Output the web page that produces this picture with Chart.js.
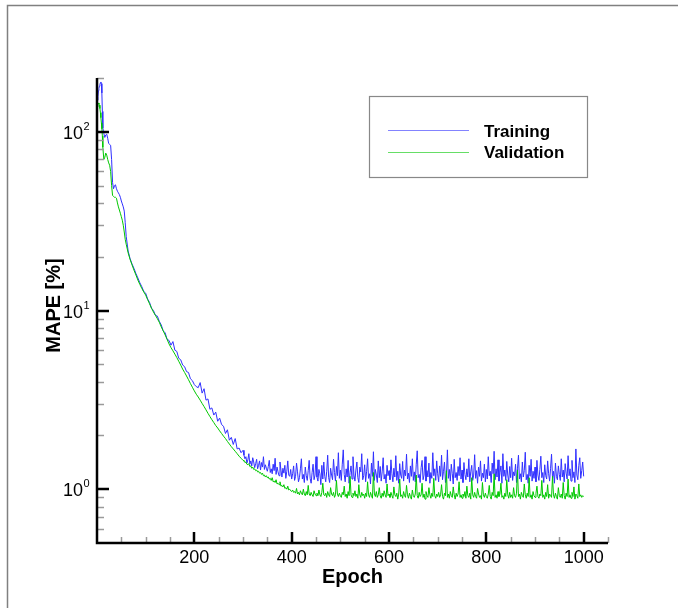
<!DOCTYPE html>
<html>
<head>
<meta charset="utf-8">
<script src="https://cdn.jsdelivr.net/npm/chart.js@4/dist/chart.umd.min.js"></script>
<style>
  html, body { margin: 0; padding: 0; background: #fff; }
  #c { display: block; }
</style>
</head>
<body>
<canvas id="c" width="678" height="608"></canvas>
<script>
/* MAPE vs epoch, training / validation (log y) */
const range = (a, b, s) => { const r = []; for (let v = a; v <= b; v += s) r.push(v); return r; };

// epochs sampled: dense at the start, every 4 in the decay, every 2 on the plateau
const epochs = [].concat(range(1, 12, 1), range(14, 60, 2), range(64, 300, 4), range(302, 1000, 2));

const trainingMape = [
  150, 158, 170, 175, 180, 184, 188, 190, 186, 165, 130, 105,
  98, 93, 96, 97, 92, 86, 85, 84, 70, 52, 48, 50, 50.5, 48, 46.5, 45.5, 44.5, 43, 41, 39.5, 38, 36, 31, 26,
  21.5, 19.5, 18.2, 17.2, 16.1, 15.2, 14.3, 13.6, 12.8, 12.5, 11.6, 11.1, 10.3, 10.0, 9.4, 9.3, 8.7, 8.3, 7.7, 7.5,
  6.9, 6.8, 6.4, 6.7, 6.0, 5.9, 5.4, 5.3, 4.95, 4.85, 4.55, 4.5, 4.15, 4.05, 3.85, 3.75, 3.7, 3.95, 3.45, 3.65,
  3.15, 3.2, 2.8, 2.85, 2.6, 2.7, 2.4, 2.5, 2.3, 2.25, 2.05, 2.15, 1.88, 1.95, 1.78, 1.92, 1.68, 1.7, 1.6, 1.65,
  1.55,1.48,1.52,1.40,1.46,1.58,1.38,1.44,1.35,1.50,1.42,1.32,1.39,1.47,1.30,1.36,1.44,1.28,1.41,1.33,1.52,1.29,1.37,1.31,1.26,
  1.34,1.45,1.24,1.30,1.22,1.38,1.27,1.49,1.21,1.33,1.25,1.19,1.42,1.28,1.17,1.31,1.23,1.36,1.15,1.26,1.44,1.20,1.18,1.29,1.14,
  1.22,1.35,1.12,1.18,1.40,1.25,1.10,1.16,1.30,1.48,1.14,1.21,1.09,1.33,1.19,1.12,1.27,1.45,1.15,1.08,1.24,1.38,1.13,1.20,1.52,
  1.17,1.11,1.29,1.22,1.06,1.36,1.14,1.42,1.18,1.10,1.26,1.55,1.16,1.09,1.31,1.20,1.13,1.47,1.24,1.11,1.34,1.19,1.60,1.15,1.28,
  1.12,1.38,1.66,1.21,1.10,1.30,1.17,1.45,1.08,1.24,1.35,1.14,1.52,1.20,1.11,1.28,1.42,1.16,1.09,1.33,1.25,1.58,1.13,1.19,1.37,
  1.10,1.26,1.48,1.15,1.22,1.07,1.40,1.18,1.62,1.12,1.29,1.20,1.09,1.44,1.16,1.34,1.11,1.25,1.50,1.14,1.21,1.08,1.36,1.19,1.27,
  1.13,1.46,1.22,1.10,1.31,1.17,1.54,1.12,1.26,1.08,1.39,1.20,1.15,1.43,1.11,1.28,1.19,1.57,1.14,1.23,1.09,1.35,1.18,1.48,1.12,
  1.25,1.10,1.38,1.64,1.16,1.21,1.09,1.32,1.45,1.13,1.20,1.52,1.11,1.27,1.17,1.40,1.08,1.24,1.15,1.60,1.19,1.30,1.12,1.44,1.22,
  1.10,1.35,1.18,1.55,1.13,1.26,1.42,1.09,1.20,1.66,1.15,1.29,1.11,1.38,1.22,1.07,1.47,1.16,1.24,1.12,1.34,1.19,1.50,1.14,1.28,
  1.09,1.41,1.21,1.13,1.30,1.17,1.48,1.10,1.25,1.36,1.12,1.20,1.56,1.15,1.27,1.08,1.33,1.18,1.44,1.11,1.23,1.16,1.38,1.10,1.29,
  1.14,1.52,1.19,1.26,1.09,1.40,1.22,1.63,1.13,1.30,1.17,1.46,1.11,1.24,1.35,1.08,1.58,1.18,1.28,1.12,1.43,1.20,1.10,1.34,1.16,
  1.49,1.12,1.25,1.19,1.38,1.09,1.30,1.55,1.14,1.22,1.10,1.42,1.17,1.27,1.61,1.13,1.21,1.08,1.36,1.18,1.47,1.11,1.26,1.15,1.33,
  1.10,1.45,1.20,1.12,1.29,1.53,1.16,1.24,1.09,1.37,1.19,1.14,1.44,1.22,1.11,1.31,1.57,1.15,1.26,1.08,1.40,1.18,1.13,1.35,1.21,
  1.12,1.48,1.17,1.28,1.10,1.39,1.23,1.14,1.54,1.19,1.30,1.11,1.45,1.16,1.25,1.09,1.68,1.20,1.13,1.36,1.50,1.15,1.27,1.42,1.18
];

const validationMape = [
  138, 142, 145, 143, 141, 135, 128, 120, 112, 104, 95, 82,
  70, 72, 76, 74, 70, 67, 65, 60, 50, 44, 43.5, 43, 43, 42.5, 40, 38, 36.5, 35, 33.5, 32, 30, 27.5, 25, 23.5,
  21, 19.3, 18, 16.8, 15.8, 14.8, 14, 13.3, 12.7, 12.2, 11.5, 10.9, 10.3, 9.8, 9.4, 9.0, 8.6, 8.1, 7.7, 7.3,
  6.9, 6.5, 6.2, 5.95, 5.7, 5.45, 5.2, 4.95, 4.7, 4.5, 4.3, 4.1, 3.9, 3.72, 3.55, 3.4, 3.28, 3.15, 3.02, 2.9,
  2.78, 2.66, 2.55, 2.45, 2.36, 2.27, 2.2, 2.12, 2.05, 1.98, 1.92, 1.85, 1.79, 1.73, 1.68, 1.63, 1.58, 1.53, 1.49, 1.45,
  1.44,1.41,1.42,1.38,1.37,1.39,1.34,1.35,1.31,1.33,1.29,1.30,1.27,1.28,1.25,1.26,1.23,1.24,1.21,1.23,1.19,1.20,1.17,1.19,1.16,
  1.17,1.14,1.15,1.12,1.16,1.10,1.11,1.09,1.13,1.07,1.08,1.06,1.10,1.04,1.05,1.03,1.06,1.01,1.02,1.00,1.04,0.99,1.00,0.98,0.97,
  0.99,0.96,0.97,0.95,1.01,0.94,0.96,0.93,0.98,0.95,0.93,1.00,0.94,0.92,0.97,0.93,1.05,0.94,0.92,0.96,0.93,0.91,0.98,0.94,0.92,
  0.95,0.92,0.99,0.93,0.91,0.96,1.08,0.93,0.92,0.95,0.90,0.97,0.93,0.91,1.02,0.94,0.92,0.96,0.90,0.93,1.12,0.94,0.91,0.95,0.92,
  0.90,0.96,0.93,1.04,0.91,0.94,0.89,0.97,0.92,1.18,0.93,0.90,0.95,0.92,0.98,0.91,0.94,0.89,1.06,0.93,0.90,0.96,0.92,0.94,0.89,
  0.95,0.91,1.10,0.93,0.90,0.96,0.92,0.89,1.24,0.94,0.91,0.97,0.90,0.93,1.02,0.92,0.89,0.95,0.91,0.98,0.93,0.90,1.07,0.92,0.94,
  0.90,0.96,0.92,0.89,1.03,0.93,0.91,0.95,0.88,0.94,1.14,0.91,0.93,0.89,0.97,0.92,0.90,1.05,0.93,0.89,0.95,0.91,0.88,0.99,0.92,
  0.90,0.94,1.20,0.92,0.89,0.96,0.91,0.93,1.08,0.90,0.94,0.88,0.97,0.92,0.90,1.02,0.93,0.89,0.95,0.91,1.15,0.92,0.89,0.94,0.91,
  0.96,0.90,0.93,1.06,0.91,0.88,0.95,0.92,1.27,0.90,0.94,0.89,0.97,0.92,0.90,1.03,0.93,0.88,0.95,0.91,0.94,1.10,0.90,0.93,0.89,
  0.94,0.91,0.97,0.89,1.04,0.92,0.90,0.95,0.88,1.16,0.93,0.90,0.96,0.91,0.89,1.01,0.94,0.90,0.92,0.88,1.09,0.93,0.90,0.95,0.91,
  0.89,0.94,1.05,0.91,0.88,0.96,0.92,1.22,0.90,0.93,0.89,0.97,0.91,0.94,1.08,0.90,0.92,0.88,0.95,0.91,1.13,0.93,0.89,0.96,0.90,
  0.93,0.89,1.02,0.92,0.90,0.95,1.28,0.91,0.94,0.88,0.96,0.92,0.90,1.07,0.93,0.89,0.95,0.91,1.16,0.90,0.93,0.88,0.97,0.92,0.90,
  0.95,1.04,0.91,0.89,0.94,0.92,1.12,0.90,0.93,0.88,0.96,0.91,1.06,0.89,0.94,0.92,0.90,1.18,0.93,0.89,0.95,0.91,0.88,1.02,0.92,
  0.90,0.94,0.89,1.09,0.92,0.88,0.95,0.91,1.14,0.90,0.93,0.89,0.96,0.91,1.03,0.88,0.94,0.92,0.89,1.07,0.91,0.93,0.90,0.92,0.91
];

const xTicks = [200, 400, 600, 800, 1000];
const xMinor = range(50, 1050, 50).filter(v => !xTicks.includes(v));
const yTicks = [1, 10, 100];
const yExp = ["0", "1", "2"];
const yMinor = [0.6, 0.7, 0.8, 0.9, 2, 3, 4, 5, 6, 7, 8, 9, 20, 30, 40, 50, 60, 70, 80, 90, 200];
const seriesNames = ["Training", "Validation"];
const seriesColors = ["#3030ff", "#00c800"];

const FONT = "'Liberation Sans', Arial, sans-serif";

const frameAxes = {
  id: "frameAxes",
  beforeDraw(chart){
    const ctx = chart.ctx;
    ctx.save();
    ctx.fillStyle = "#fff";
    ctx.fillRect(0, 0, chart.width, chart.height);
    ctx.strokeStyle = "#808080";
    ctx.lineWidth = 1.5;
    ctx.strokeRect(7.5, 5.5, chart.width + 20, chart.height + 20);
    ctx.restore();
  },
  afterDraw(chart){
    const ctx = chart.ctx, a = chart.chartArea;
    const xs = chart.scales.x, ys = chart.scales.y;
    ctx.save();

    // minor ticks
    ctx.strokeStyle = "#9a9a9a"; ctx.lineWidth = 1.5;
    ctx.beginPath();
    yMinor.forEach(v => { const y = Math.round(ys.getPixelForValue(v)) + 0.5; ctx.moveTo(a.left, y); ctx.lineTo(a.left + 7, y); });
    xMinor.forEach(v => { const x = Math.round(xs.getPixelForValue(v)) + 0.5; ctx.moveTo(x, a.bottom); ctx.lineTo(x, a.bottom - 6); });
    ctx.stroke();

    // major ticks
    ctx.strokeStyle = "#000"; ctx.lineWidth = 2.5;
    ctx.beginPath();
    yTicks.forEach(v => { const y = Math.round(ys.getPixelForValue(v)); ctx.moveTo(a.left, y); ctx.lineTo(a.left + 12, y); });
    xTicks.forEach(v => { const x = Math.round(xs.getPixelForValue(v)); ctx.moveTo(x, a.bottom); ctx.lineTo(x, a.bottom - 11); });
    ctx.stroke();

    // axis lines
    ctx.lineWidth = 2.5;
    ctx.beginPath();
    ctx.moveTo(a.left, a.top); ctx.lineTo(a.left, a.bottom); ctx.lineTo(a.right, a.bottom);
    ctx.stroke();

    // tick labels
    ctx.fillStyle = "#000";
    ctx.textBaseline = "alphabetic";
    ctx.font = "18px " + FONT;
    ctx.textAlign = "center";
    xTicks.forEach(v => ctx.fillText(String(v), xs.getPixelForValue(v), a.bottom + 20));
    yTicks.forEach((v, i) => {
      const y = ys.getPixelForValue(v);
      ctx.font = "18px " + FONT; ctx.textAlign = "right";
      ctx.fillText("10", 83, y + 7);
      ctx.font = "11px " + FONT; ctx.textAlign = "left";
      ctx.fillText(yExp[i], 83.5, y - 2);
    });

    // axis titles
    ctx.font = "bold 20px " + FONT;
    ctx.textAlign = "center";
    ctx.fillText("Epoch", (a.left + a.right) / 2, 583);
    ctx.save();
    ctx.translate(59.5, (a.top + a.bottom) / 2 - 5);
    ctx.rotate(-Math.PI / 2);
    ctx.fillText("MAPE [%]", 0, 0);
    ctx.restore();

    // legend box
    ctx.strokeStyle = "#888"; ctx.lineWidth = 1.2;
    ctx.strokeRect(369.5, 96.5, 218, 81);
    ctx.font = "bold 17px " + FONT; ctx.textAlign = "left";
    const rows = [130.5, 152.5], base = [137, 158];
    seriesNames.forEach((n, i) => {
      ctx.strokeStyle = seriesColors[i]; ctx.globalAlpha = 0.6; ctx.lineWidth = 1;
      ctx.beginPath(); ctx.moveTo(388, rows[i]); ctx.lineTo(469, rows[i]); ctx.stroke();
      ctx.globalAlpha = 1;
      ctx.fillText(n, 484, base[i]);
    });
    ctx.restore();
  }
};

new Chart(document.getElementById("c"), {
  type: "line",
  data: {
    labels: epochs,
    datasets: [
      { label: seriesNames[0], data: epochs.map((e, i) => ({ x: e, y: trainingMape[i] })),
        borderColor: seriesColors[0], borderWidth: 1, pointRadius: 0, tension: 0, order: 1 },
      { label: seriesNames[1], data: epochs.map((e, i) => ({ x: e, y: validationMape[i] })),
        borderColor: seriesColors[1], borderWidth: 1, pointRadius: 0, tension: 0, order: 0 }
    ]
  },
  options: {
    responsive: false, animation: false, devicePixelRatio: 1,
    layout: { padding: { left: 97, top: 78, right: 70, bottom: 65 } },
    plugins: { legend: { display: false }, tooltip: { enabled: false } },
    scales: {
      x: { type: "linear", min: 0, max: 1050, display: false },
      y: { type: "logarithmic", min: 0.5, max: 200, display: false }
    }
  },
  plugins: [frameAxes]
});
</script>
</body>
</html>
